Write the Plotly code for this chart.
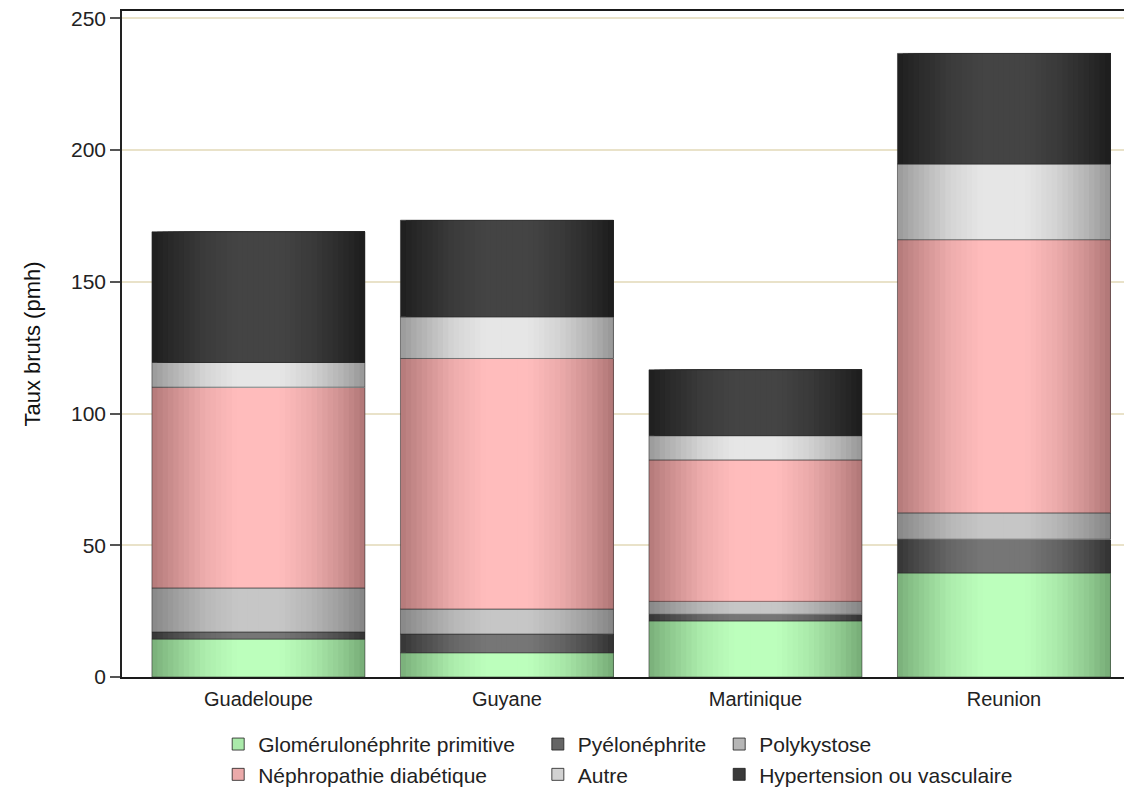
import numpy as np
import plotly.graph_objects as go

# Categories and stacked values (taux bruts, pmh), bottom to top
categories = ["Guadeloupe", "Guyane", "Martinique", "Reunion"]
series_names = [
    "Glomérulonéphrite primitive",
    "Pyélonéphrite",
    "Polykystose",
    "Néphropathie diabétique",
    "Autre",
    "Hypertension ou vasculaire",
]
glomerulo = [14.4, 9.2, 21.3, 39.5]
pyelo = [2.7, 7.1, 2.5, 12.8]
polykystose = [16.7, 9.5, 4.9, 10.0]
nephro_diab = [76.2, 95.1, 53.7, 103.7]
autre = [9.4, 15.8, 9.2, 28.7]
hypertension = [49.6, 36.7, 25.0, 42.0]
y_ticks = [0, 50, 100, 150, 200, 250]

series_values = [glomerulo, pyelo, polykystose, nephro_diab, autre, hypertension]

# (edge colour, centre colour) for the cylinder-like horizontal shading
shades = [
    ((118, 171, 118), (188, 255, 188)),
    ((50, 50, 50), (118, 118, 118)),
    ((132, 132, 132), (198, 198, 198)),
    ((176, 118, 118), (255, 188, 188)),
    ((150, 150, 150), (230, 230, 230)),
    ((28, 28, 28), (68, 68, 68)),
]

BAR_W = 0.857
N_SLICES = 40
prof_p = [0.0, 0.08, 0.25, 0.40, 0.60, 0.75, 0.90, 1.0]
prof_f = [0.05, 0.30, 0.78, 1.0, 1.0, 0.75, 0.35, 0.0]
FONT = "Liberation Sans, Arial, sans-serif"


def mix(edge, centre, f):
    r, g, b = (int(round(e + (c - e) * f)) for e, c in zip(edge, centre))
    return f"rgb({r},{g},{b})"


fig = go.Figure()

bases = np.zeros(len(categories))
for s, (name, vals) in enumerate(zip(series_names, series_values)):
    vals = np.array(vals, dtype=float)
    edge, centre = shades[s]
    # shaded body: each slice starts further right and runs to the bar's right edge
    for i in range(N_SLICES):
        p0 = i / N_SLICES
        pc = (i + 0.5) / N_SLICES
        f = float(np.interp(pc, prof_p, prof_f))
        fig.add_trace(go.Bar(
            x=categories, y=vals, base=bases,
            offset=-BAR_W / 2 + p0 * BAR_W, width=BAR_W * (1 - p0),
            marker=dict(color=mix(edge, centre, f), line=dict(width=0)),
            showlegend=False, hoverinfo="skip",
        ))
    # segment outline
    fig.add_trace(go.Bar(
        x=categories, y=vals, base=bases, width=BAR_W,
        marker=dict(color="rgba(0,0,0,0)", line=dict(color="rgba(40,40,40,0.55)", width=1)),
        showlegend=False, name=name,
        hovertemplate="%{x}<br>" + name + ": %{y:.1f}<extra></extra>",
    ))
    bases = bases + vals

# legend entries, laid out in three columns
legend_of = ["legend", "legend2", "legend3", "legend", "legend2", "legend3"]
for s, name in enumerate(series_names):
    edge, centre = shades[s]
    fig.add_trace(go.Bar(
        x=[None], y=[None], name=name, legend=legend_of[s],
        marker=dict(color=mix(edge, centre, 0.75), line=dict(color="rgba(30,30,30,0.8)", width=1)),
    ))

legend_style = dict(
    orientation="v", yanchor="top", xanchor="left",
    yref="container", y=0.0825,
    font=dict(family=FONT, size=21, color="#222"),
    bgcolor="rgba(0,0,0,0)", borderwidth=0, tracegroupgap=0,
    itemwidth=30,
)
fig.update_layout(
    barmode="overlay",
    width=1124, height=789,
    margin=dict(l=122, r=0, t=11, b=112, autoexpand=False),
    paper_bgcolor="white", plot_bgcolor="white",
    font=dict(family=FONT, size=20, color="#222"),
    legend=dict(legend_style, x=0.096),
    legend2=dict(legend_style, x=0.415),
    legend3=dict(legend_style, x=0.596),
    xaxis=dict(
        type="category", range=[-0.549, 3.483],
        showline=True, linecolor="#1a1a1a", linewidth=2, mirror=True,
        ticks="", showgrid=False, ticklabelstandoff=3,
        tickfont=dict(family=FONT, size=20, color="#222"),
    ),
    yaxis=dict(
        range=[0, 252.8], tickvals=y_ticks,
        showline=True, linecolor="#222", linewidth=1.5,
        ticks="outside", ticklen=10, tickcolor="#555", tickwidth=1.5,
        showgrid=True, gridcolor="#e9e2c9", gridwidth=1.5,
        zeroline=False,
        tickfont=dict(family=FONT, size=21, color="#222"),
        title=dict(text="Taux bruts (pmh)", standoff=24,
                   font=dict(family=FONT, size=22, color="#111")),
    ),
)

fig.write_html("out.html")
